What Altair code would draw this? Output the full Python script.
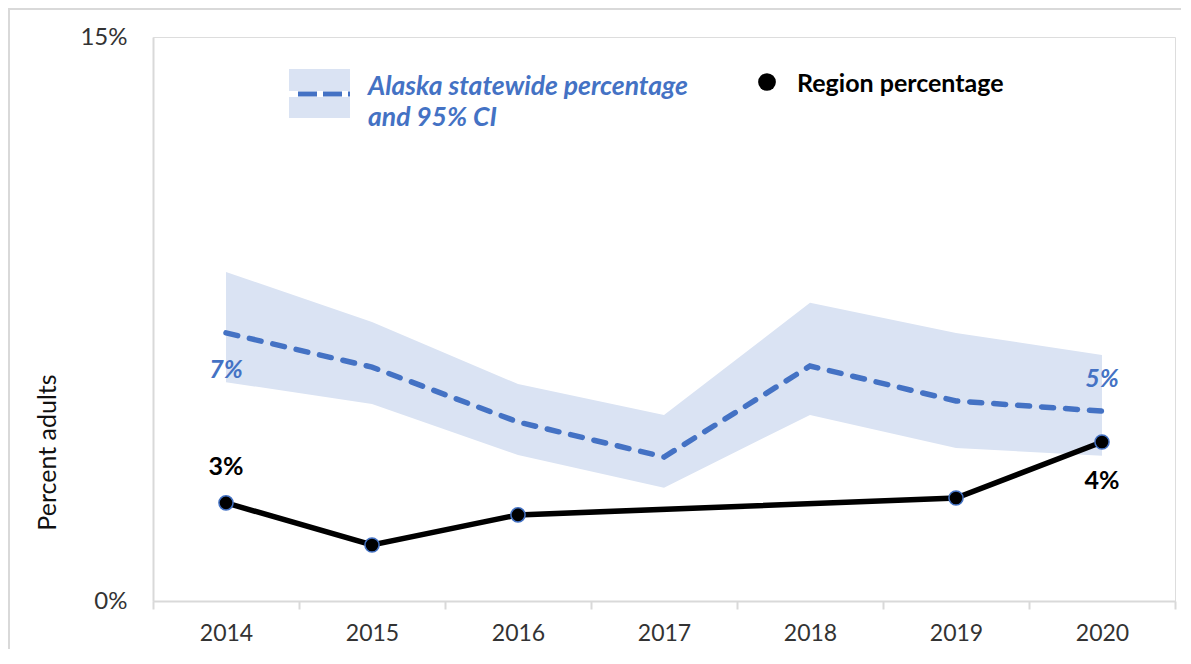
import altair as alt
import pandas as pd

# ---- data ----
years = [2014, 2015, 2016, 2017, 2018, 2019, 2020]
state_pct = [7.13, 6.22, 4.76, 3.83, 6.25, 5.32, 5.05]
ci_low = [5.82, 5.24, 3.88, 3.01, 4.95, 4.07, 3.86]
ci_high = [8.75, 7.42, 5.77, 4.95, 7.93, 7.13, 6.54]
region_years = [2014, 2015, 2016, 2019, 2020]
region_pct = [2.61, 1.49, 2.29, 2.74, 4.23]
y_tick_values = [0, 15]
x_tick_edges = [2013.5, 2014.5, 2015.5, 2016.5, 2017.5, 2018.5, 2019.5, 2020.5]

FONT = "Lato"
BLUE = "#4472C4"
BAND = "#DAE3F3"
GREY = "#D9D9D9"
W, H = 1022, 564

state_df = pd.DataFrame({"year": years, "pct": state_pct, "lo": ci_low, "hi": ci_high})
region_df = pd.DataFrame({"year": region_years, "pct": region_pct})
one = pd.DataFrame({"k": [0]})

x_enc = alt.X(
    "year:Q",
    title=None,
    scale=alt.Scale(domain=[2013.5, 2020.5], nice=False, zero=False),
    axis=alt.Axis(
        values=x_tick_edges,
        labelExpr="datum.value < 2020 ? format(datum.value + 0.5, 'd') : ''",
        labelOffset=73,
        tickSize=8,
        tickColor=GREY,
        tickWidth=2,
        domainColor=GREY,
        domainWidth=2,
        grid=False,
        labelFont=FONT,
        labelFontSize=23,
        labelColor="#333333",
        labelPadding=13,
        labelFlush=False,
        labelOverlap=False,
        labelBound=False,
    ),
)
y_scale = alt.Scale(domain=[0, 15], nice=False, zero=True)
y_axis = alt.Axis(
    values=y_tick_values,
    labelExpr="datum.value + '%'",
    ticks=False,
    tickSize=0,
    domainColor=GREY,
    domainWidth=2,
    grid=False,
    labelFont=FONT,
    labelFontSize=24,
    labelColor="#333333",
    labelPadding=26,
    title="Percent adults",
    titleFont=FONT,
    titleFontSize=25,
    titleFontWeight="normal",
    titleColor="#111111",
    titleX=-106,
    titleY=415,
    titleAlign="center",
    titleBaseline="middle",
    titleAngle=270,
)

band = alt.Chart(state_df).mark_area(color=BAND, opacity=1).encode(
    x=x_enc, y=alt.Y("lo:Q", scale=y_scale, axis=y_axis), y2="hi:Q"
)
state_line = alt.Chart(state_df).mark_line(
    color=BLUE, strokeWidth=5.5, strokeDash=[12, 12], strokeCap="round"
).encode(x=x_enc, y=alt.Y("pct:Q", scale=y_scale))
region_line = alt.Chart(region_df).mark_line(color="black", strokeWidth=5.5).encode(
    x=x_enc, y=alt.Y("pct:Q", scale=y_scale)
)
region_pts = alt.Chart(region_df).mark_point(
    filled=True, size=200, fill="black", stroke=BLUE, strokeWidth=1.5, opacity=1, shape="circle"
).encode(x=x_enc, y=alt.Y("pct:Q", scale=y_scale))


def label(df, yr, dy, color, italic):
    return (
        alt.Chart(df)
        .transform_filter(f"datum.year == {yr}")
        .transform_calculate(t="format(round(datum.pct), 'd') + '%'")
        .mark_text(
            dy=dy, font=FONT, fontSize=25, fontWeight="bold",
            fontStyle="italic" if italic else "normal", color=color,
            align="center", baseline="middle",
        )
        .encode(x=x_enc, y=alt.Y("pct:Q", scale=y_scale), text="t:N")
    )


labels = [
    label(state_df, 2014, 37, BLUE, True),
    label(state_df, 2020, -32, BLUE, True),
    label(region_df, 2014, -36, "black", False),
    label(region_df, 2020, 39, "black", False),
]

# ---- legend (drawn manually) ----
leg_rect = alt.Chart(one).mark_rect(color=BAND).encode(
    x=alt.value(136), x2=alt.value(197), y=alt.value(32), y2=alt.value(81)
)
leg_white = alt.Chart(one).mark_rule(color="white", strokeWidth=6).encode(
    x=alt.value(136), x2=alt.value(197), y=alt.value(57)
)
leg_dash = alt.Chart(one).mark_rule(color=BLUE, strokeWidth=5, strokeDash=[19, 6]).encode(
    x=alt.value(145), x2=alt.value(197), y=alt.value(57)
)
leg_text1 = alt.Chart(one).mark_text(
    align="left", baseline="middle", font=FONT, fontSize=26.5, fontWeight="bold",
    fontStyle="italic", color=BLUE, lineHeight=31,
).encode(x=alt.value(215), y=alt.value(50), text=alt.value(["Alaska statewide percentage", "and 95% CI"]))
leg_dot = alt.Chart(one).mark_circle(size=314, color="black", opacity=1).encode(
    x=alt.value(614), y=alt.value(45)
)
leg_text2 = alt.Chart(one).mark_text(
    align="left", baseline="middle", font=FONT, fontSize=25, fontWeight="bold", color="black"
).encode(x=alt.value(644), y=alt.value(47), text=alt.value("Region percentage"))

border = alt.Chart(one).mark_rect(filled=False, stroke=GREY, strokeWidth=2, clip=False).encode(
    x=alt.value(-144), x2=alt.value(W + 40), y=alt.value(-28), y2=alt.value(H + 120)
)

chart = (
    alt.layer(
        border, band, state_line, region_line, region_pts, *labels,
        leg_rect, leg_white, leg_dash, leg_text1, leg_dot, leg_text2,
    )
    .properties(
        width=W, height=H,
        autosize=alt.AutoSizeParams(type="none"),
        padding={"left": 145, "top": 29, "right": 6, "bottom": 48},
    )
    .configure_view(stroke=None)
    .configure(background="white")
)

chart.save("out.html", embed_options={"renderer": "svg", "actions": False})
